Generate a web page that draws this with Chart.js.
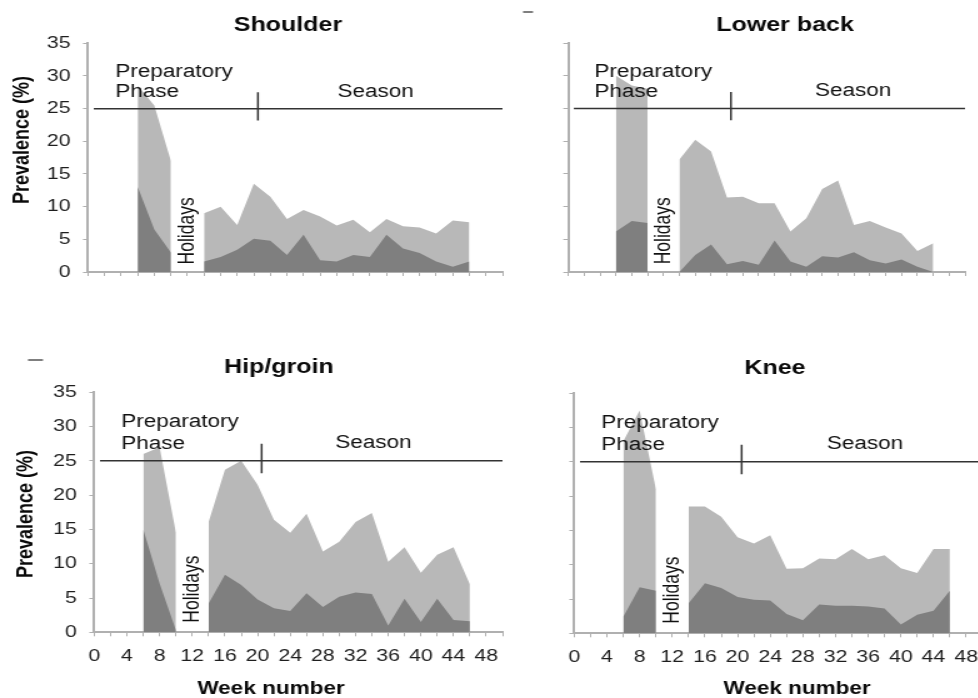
<!DOCTYPE html>
<html>
<head>
<meta charset="utf-8">
<script src="https://cdn.jsdelivr.net/npm/chart.js@4.4.1/dist/chart.umd.min.js"></script>
<style>
  html, body { margin: 0; padding: 0; background: #fff; width: 978px; height: 698px; overflow: hidden; }
  .panel { position: absolute; transform-origin: 0 0; transform: scaleX(1.25); }
</style>
</head>
<body>
<div class="panel" id="p0"><canvas id="c0"></canvas></div>
<div class="panel" id="p1"><canvas id="c1"></canvas></div>
<div class="panel" id="p2"><canvas id="c2"></canvas></div>
<div class="panel" id="p3"><canvas id="c3"></canvas></div>
<script>
// the original figure is stretched sideways, so each panel is drawn narrow and scaled
const STRETCH = 1.25;

// weeks with data: preparatory phase, then holidays gap, then season
const prepWeeks = [6, 8, 10];
const holidayWeek = 12;
const seasonWeeks = [14, 16, 18, 20, 22, 24, 26, 28, 30, 32, 34, 36, 38, 40, 42, 44, 46];
const xLabelWeeks = [0, 4, 8, 12, 16, 20, 24, 28, 32, 36, 40, 44, 48];

// prevalence (%) – light grey = all problems, dark grey = substantial problems
const shoulderAll = [28.5, 25.5, 17, 9.0, 10.0, 7.2, 13.5, 11.5, 8.1, 9.5, 8.5, 7.1, 8.0, 6.1, 8.1, 7.0, 6.8, 5.9, 7.9, 7.6];
const shoulderSubstantial = [13, 6.5, 3, 1.6, 2.3, 3.4, 5.1, 4.8, 2.6, 5.7, 1.8, 1.6, 2.6, 2.3, 5.7, 3.6, 2.9, 1.6, 0.8, 1.6];

const lowerBackAll = [30, 28.5, 28, 17.2, 20.2, 18.4, 11.4, 11.5, 10.5, 10.5, 6.2, 8.2, 12.7, 14.0, 7.2, 7.8, 6.8, 5.9, 3.2, 4.4];
const lowerBackSubstantial = [6.2, 7.8, 7.5, 0, 2.6, 4.2, 1.2, 1.7, 1.1, 4.8, 1.6, 0.8, 2.4, 2.2, 3.0, 1.8, 1.3, 1.9, 0.8, 0];

const hipAll = [26, 27, 14.5, 16.1, 23.7, 25.0, 21.5, 16.4, 14.5, 17.3, 11.8, 13.2, 16.1, 17.4, 10.3, 12.4, 8.7, 11.3, 12.4, 7.0];
const hipSubstantial = [15, 7.1, 0.3, 4.2, 8.4, 6.9, 4.8, 3.5, 3.1, 5.7, 3.7, 5.2, 5.8, 5.6, 1.0, 4.9, 1.5, 4.9, 1.8, 1.6];

const kneeAll = [28, 32.5, 21, 18.5, 18.5, 17.0, 14.0, 13.1, 14.3, 9.4, 9.5, 10.9, 10.8, 12.3, 10.8, 11.4, 9.5, 8.8, 12.3, 12.3];
const kneeSubstantial = [2.4, 6.7, 6.2, 4.4, 7.3, 6.6, 5.3, 4.9, 4.8, 2.8, 1.9, 4.2, 4.0, 4.0, 3.9, 3.6, 1.3, 2.7, 3.3, 6.2];

// phase divider
const dividerLevel = 25;
const dividerWeeks = [0.7, 50];
const seasonStartWeek = 20.5;
const seasonMarkRange = [23.2, 27.5];

const FONT = '"Liberation Sans", Arial, sans-serif';
const LIGHT = '#b8b8b8';
const DARK = '#7f7f7f';
const AXIS = '#b0b0b0';

Chart.defaults.font.family = FONT;

function toPoints(values) {
  const pts = prepWeeks.map((w, i) => ({ x: w, y: values[i] }));
  pts.push({ x: holidayWeek, y: null });
  seasonWeeks.forEach((w, i) => pts.push({ x: w, y: values[prepWeeks.length + i] }));
  return pts;
}

const panels = [
  { title: 'Shoulder', all: shoulderAll, sub: shoulderSubstantial, seasonAt: 34.7,
    box: { L: 0, T: 0, W: 515, H: 300 }, area: { a: 88, b: 505, c: 43.3, d: 272 },
    titlePos: { x: 288, y: 25 }, yTitle: { x: 23, y: 140 }, xTitle: null, yLabels: true, xLabels: false, dash: null },
  { title: 'Lower back', all: lowerBackAll, sub: lowerBackSubstantial, seasonAt: 35.9,
    box: { L: 515, T: 0, W: 463, H: 300 }, area: { a: 568.3, b: 970.7, c: 43, d: 272 },
    titlePos: { x: 785, y: 25 }, yTitle: null, xTitle: null, yLabels: false, xLabels: false, dash: { x0: 523, x1: 533, y: 12 } },
  { title: 'Hip/groin', all: hipAll, sub: hipSubstantial, seasonAt: 34.2,
    box: { L: 0, T: 330, W: 515, H: 368 }, area: { a: 94.3, b: 511, c: 392.3, d: 632.3 },
    titlePos: { x: 279, y: 367 }, yTitle: { x: 26, y: 514 }, xTitle: { x: 271, y: 689 }, yLabels: true, xLabels: true, dash: { x0: 28, x1: 43, y: 360 } },
  { title: 'Knee', all: kneeAll, sub: kneeSubstantial, seasonAt: 35.6,
    box: { L: 515, T: 330, W: 480, H: 368 }, area: { a: 574.3, b: 982.8, c: 393.3, d: 633.3 },
    titlePos: { x: 775, y: 368 }, yTitle: null, xTitle: { x: 797, y: 689 }, yLabels: false, xLabels: true, dash: null }
];

const panelText = {
  id: 'panelText',
  afterDatasetsDraw(chart, args, opts) {
    const p = opts.panel;
    const { ctx } = chart;
    const x = chart.scales.x, y = chart.scales.y;
    ctx.save();
    ctx.fillStyle = '#111';
    ctx.font = '18px ' + FONT;
    ctx.textBaseline = 'middle';
    ctx.textAlign = 'left';
    ctx.fillText('Preparatory', x.getPixelForValue(3.3), y.getPixelForValue(30.6));
    ctx.fillText('Phase', x.getPixelForValue(3.3), y.getPixelForValue(27.5));
    ctx.textAlign = 'center';
    ctx.fillText('Season', x.getPixelForValue(p.seasonAt), y.getPixelForValue(27.6));
    ctx.font = '17.5px ' + FONT;
    ctx.save();
    ctx.translate(x.getPixelForValue(holidayWeek), y.getPixelForValue(6.3));
    ctx.rotate(-Math.PI / 2);
    ctx.fillText('Holidays', 0, 0);
    ctx.restore();

    ctx.fillStyle = '#0a0a0a';
    ctx.font = 'bold 20px ' + FONT;
    ctx.fillText(p.title, (p.titlePos.x - p.box.L) / STRETCH, p.titlePos.y - p.box.T);
    ctx.font = 'bold 18px ' + FONT;
    if (p.xTitle) {
      ctx.fillText('Week number', (p.xTitle.x - p.box.L) / STRETCH, p.xTitle.y - p.box.T);
    }
    if (p.yTitle) {
      ctx.save();
      ctx.translate((p.yTitle.x - p.box.L) / STRETCH, p.yTitle.y - p.box.T);
      ctx.rotate(-Math.PI / 2);
      ctx.fillText('Prevalence (%)', 0, 0);
      ctx.restore();
    }
    if (p.dash) {
      ctx.strokeStyle = '#555';
      ctx.lineWidth = 1.5;
      ctx.beginPath();
      ctx.moveTo((p.dash.x0 - p.box.L) / STRETCH, p.dash.y - p.box.T);
      ctx.lineTo((p.dash.x1 - p.box.L) / STRETCH, p.dash.y - p.box.T);
      ctx.stroke();
    }
    ctx.restore();
  }
};

panels.forEach((p, i) => {
  const wrap = document.getElementById('p' + i);
  wrap.style.left = p.box.L + 'px';
  wrap.style.top = p.box.T + 'px';
  const canvas = document.getElementById('c' + i);
  canvas.width = Math.round(p.box.W / STRETCH);
  canvas.height = p.box.H;

  new Chart(canvas, {
    type: 'line',
    data: {
      datasets: [
        { data: dividerWeeks.map(w => ({ x: w, y: dividerLevel })), borderColor: '#333', borderWidth: 1.5, fill: false },
        { data: seasonMarkRange.map(v => ({ x: seasonStartWeek, y: v })), borderColor: '#333', borderWidth: 1.5, fill: false },
        { data: toPoints(p.sub), backgroundColor: DARK, borderWidth: 0, fill: 'origin' },
        { data: toPoints(p.all), backgroundColor: LIGHT, borderWidth: 0, fill: 'origin' }
      ]
    },
    options: {
      responsive: false,
      animation: false,
      devicePixelRatio: 1,
      spanGaps: false,
      elements: { point: { radius: 0 }, line: { tension: 0 } },
      layout: {
        padding: {
          left: 0,
          top: p.area.c - p.box.T,
          right: (p.box.L + p.box.W - p.area.b) / STRETCH,
          bottom: 0
        }
      },
      plugins: {
        legend: { display: false },
        tooltip: { enabled: false },
        panelText: { panel: p }
      },
      scales: {
        x: {
          type: 'linear', min: 0, max: 50,
          afterFit(s) { s.height = p.box.T + p.box.H - p.area.d; },
          ticks: {
            stepSize: 2, autoSkip: false, maxRotation: 0, padding: 10,
            color: '#1e1e1e', font: { size: 17 },
            callback: v => (p.xLabels && xLabelWeeks.includes(v)) ? String(v) : ''
          },
          grid: { drawOnChartArea: false, tickLength: 4, color: AXIS, lineWidth: 1 },
          border: { color: AXIS, width: 2 }
        },
        y: {
          min: 0, max: 35,
          afterFit(s) { s.width = (p.area.a - p.box.L) / STRETCH; },
          ticks: {
            stepSize: 5, padding: 10, color: '#1e1e1e', font: { size: 17 },
            callback: v => p.yLabels ? String(v) : ''
          },
          grid: { drawOnChartArea: false, tickLength: 4, color: AXIS, lineWidth: 1 },
          border: { color: AXIS, width: 2 }
        }
      }
    },
    plugins: [panelText]
  });
});
</script>
</body>
</html>
